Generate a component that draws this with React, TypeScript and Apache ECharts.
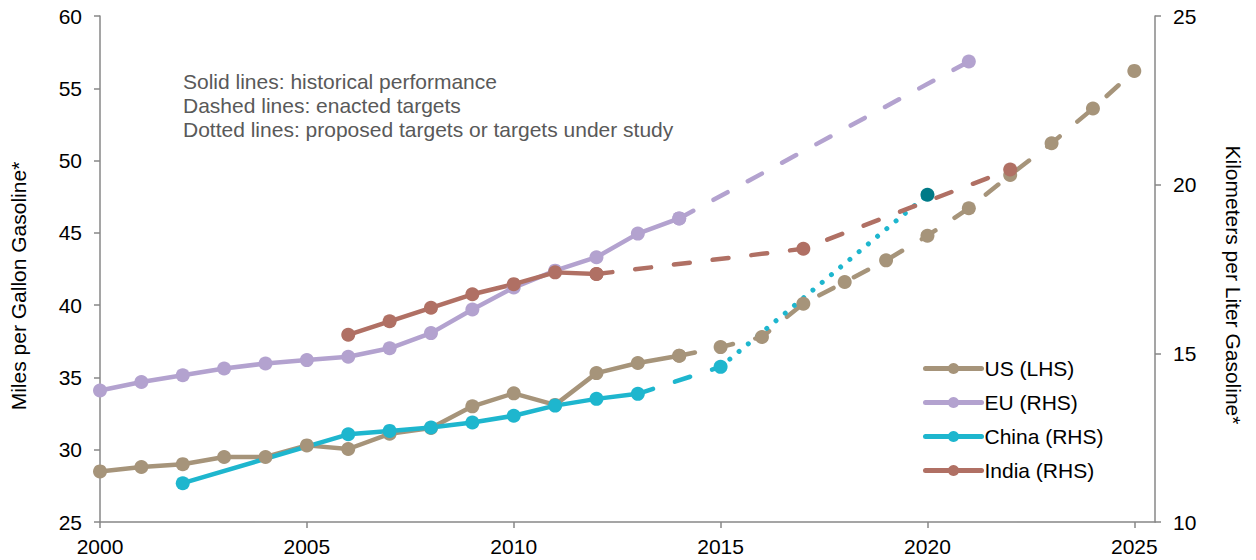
import React, { useEffect, useRef } from "react";
import * as echarts from "echarts";

// ---------- data ----------
const usYearsHist = [2000, 2001, 2002, 2003, 2004, 2005, 2006, 2007, 2008, 2009, 2010, 2011, 2012, 2013, 2014];
const usHist = [28.5, 28.8, 29.0, 29.5, 29.5, 30.3, 30.05, 31.1, 31.5, 33.0, 33.9, 33.1, 35.3, 36.0, 36.5];
const usYearsTarget = [2014, 2015, 2016, 2017, 2018, 2019, 2020, 2021, 2022, 2023, 2024, 2025];
const usTarget = [36.5, 37.1, 37.8, 40.1, 41.6, 43.1, 44.8, 46.7, 49.0, 51.2, 53.6, 56.2];

const euYearsHist = [2000, 2001, 2002, 2003, 2004, 2005, 2006, 2007, 2008, 2009, 2010, 2011, 2012, 2013, 2014];
const euHist = [13.9, 14.15, 14.35, 14.55, 14.7, 14.8, 14.9, 15.15, 15.6, 16.3, 16.95, 17.45, 17.85, 18.55, 19.0];
const euYearsTarget = [2014, 2021];
const euTarget = [19.0, 23.65];

const cnYearsHist = [2002, 2006, 2007, 2008, 2009, 2010, 2011, 2012, 2013];
const cnHist = [11.15, 12.6, 12.7, 12.8, 12.95, 13.15, 13.45, 13.65, 13.8];
const cnYearsTarget = [2013, 2015];
const cnTarget = [13.8, 14.6];
const cnYearsProposed = [2015, 2020];
const cnProposed = [14.6, 19.7];

const inYearsHist = [2006, 2007, 2008, 2009, 2010, 2011, 2012];
const inHist = [15.55, 15.95, 16.35, 16.75, 17.05, 17.4, 17.35];
const inYearsTarget = [2012, 2017, 2022];
const inTarget = [17.35, 18.1, 20.45];

const xTicks = [2000, 2005, 2010, 2015, 2020, 2025];
const noteLines = [
  "Solid lines: historical performance",
  "Dashed lines: enacted targets",
  "Dotted lines: proposed targets or targets under study",
];
const legendNames = ["US (LHS)", "EU (RHS)", "China (RHS)", "India (RHS)"];

const C_US = "#a6947a";
const C_EU = "#b3a2cf";
const C_CN = "#1eb6ce";
const C_IN = "#b07064";
const C_CN_LAST = "#007a87";

const FONT = "'Liberation Sans', Arial, sans-serif";
const FS = 21;

const zip = (xs: number[], ys: number[]) => xs.map((x, i) => [x, ys[i]]);

function lineSeries(name: string, color: string, data: any[], yAxisIndex: number, kind: "solid" | "dashed" | "dotted") {
  const lineStyle: any = { color, width: 4.5, cap: "round", join: "round" };
  if (kind === "dashed") lineStyle.type = [16, 23];
  if (kind === "dotted") {
    lineStyle.type = [0.01, 12];
    lineStyle.width = 5;
  }
  return {
    name,
    type: "line",
    yAxisIndex,
    data,
    symbol: "circle",
    symbolSize: 14,
    showSymbol: true,
    itemStyle: { color },
    lineStyle,
    emphasis: { disabled: true },
  };
}

export default function App() {
  const ref = useRef<HTMLDivElement>(null);
  useEffect(() => {
    if (!ref.current) return;
    const chart = echarts.init(ref.current, null, { renderer: "svg" });
    const cnProposedData: any[] = zip(cnYearsProposed, cnProposed).map((d, i, arr) =>
      i === arr.length - 1 ? { value: d, itemStyle: { color: C_CN_LAST } } : { value: d, symbolSize: 0 }
    );
    const cnTargetData: any[] = zip(cnYearsTarget, cnTarget).map((d, i) =>
      i === 0 ? { value: d, symbolSize: 0 } : { value: d }
    );
    const axisLineColor = "#878787";
    chart.setOption({
      animation: false,
      grid: { left: 100, right: 101, top: 16, bottom: 38, containLabel: false },
      textStyle: { fontFamily: FONT },
      xAxis: {
        type: "value",
        min: 2000,
        max: 2025.5,
        interval: 5,
        splitLine: { show: false },
        axisLine: { show: true, lineStyle: { color: axisLineColor, width: 1.5 } },
        axisTick: { show: true, length: 6, lineStyle: { color: axisLineColor, width: 1.5 }, customValues: xTicks },
        axisLabel: {
          fontSize: FS,
          color: "#000",
          fontFamily: FONT,
          margin: 14,
          customValues: xTicks,
          formatter: (v: number) => (v % 5 === 0 ? String(v) : ""),
        },
      },
      yAxis: [
        {
          type: "value",
          min: 25,
          max: 60,
          interval: 5,
          position: "left",
          splitLine: { show: false },
          axisLine: { show: true, lineStyle: { color: axisLineColor, width: 1.5 } },
          axisTick: { show: true, length: 6, lineStyle: { color: axisLineColor, width: 1.5 } },
          axisLabel: { fontSize: FS, color: "#000", fontFamily: FONT, margin: 18 },
        },
        {
          type: "value",
          min: 10,
          max: 25,
          interval: 5,
          position: "right",
          splitLine: { show: false },
          axisLine: { show: true, lineStyle: { color: axisLineColor, width: 1.5 } },
          axisTick: { show: true, length: 6, lineStyle: { color: axisLineColor, width: 1.5 } },
          axisLabel: { fontSize: FS, color: "#000", fontFamily: FONT, margin: 18 },
        },
      ],
      legend: {
        data: legendNames,
        orient: "vertical",
        left: 923,
        top: 358,
        padding: 0,
        itemWidth: 56,
        itemHeight: 14,
        itemGap: 13,
        selectedMode: false,
        lineStyle: { width: 5 },
        textStyle: { fontSize: FS, color: "#000", fontFamily: FONT, lineHeight: 21, padding: [0, 0, 0, -2] },
      },
      graphic: [
        {
          type: "text",
          x: 183,
          y: 69,
          style: {
            text: noteLines.join("\n"),
            fontSize: FS,
            lineHeight: 24,
            fill: "#595959",
            fontFamily: FONT,
            align: "left",
            verticalAlign: "top",
          },
        },
        {
          type: "text",
          x: 18,
          y: 286,
          rotation: Math.PI / 2,
          style: {
            text: "Miles per Gallon Gasoline*",
            fontSize: FS,
            fill: "#000",
            fontFamily: FONT,
            align: "center",
            verticalAlign: "middle",
          },
        },
        {
          type: "text",
          x: 1233,
          y: 285,
          rotation: -Math.PI / 2,
          style: {
            text: "Kilometers per Liter Gasoline*",
            fontSize: FS,
            fill: "#000",
            fontFamily: FONT,
            align: "center",
            verticalAlign: "middle",
          },
        },
      ],
      series: [
        lineSeries("US (LHS)", C_US, zip(usYearsHist, usHist), 0, "solid"),
        lineSeries("US target", C_US, zip(usYearsTarget, usTarget), 0, "dashed"),
        lineSeries("EU (RHS)", C_EU, zip(euYearsHist, euHist), 1, "solid"),
        lineSeries("EU target", C_EU, zip(euYearsTarget, euTarget), 1, "dashed"),
        lineSeries("China (RHS)", C_CN, zip(cnYearsHist, cnHist), 1, "solid"),
        lineSeries("China target", C_CN, cnTargetData, 1, "dashed"),
        lineSeries("China proposed", C_CN, cnProposedData, 1, "dotted"),
        lineSeries("India (RHS)", C_IN, zip(inYearsHist, inHist), 1, "solid"),
        lineSeries("India target", C_IN, zip(inYearsTarget, inTarget), 1, "dashed"),
      ],
    });
    return () => chart.dispose();
  }, []);
  return (
    <div
      ref={ref}
      style={{ position: "absolute", left: 0, top: 0, width: 1256, height: 560, background: "#fff" }}
    />
  );
}
